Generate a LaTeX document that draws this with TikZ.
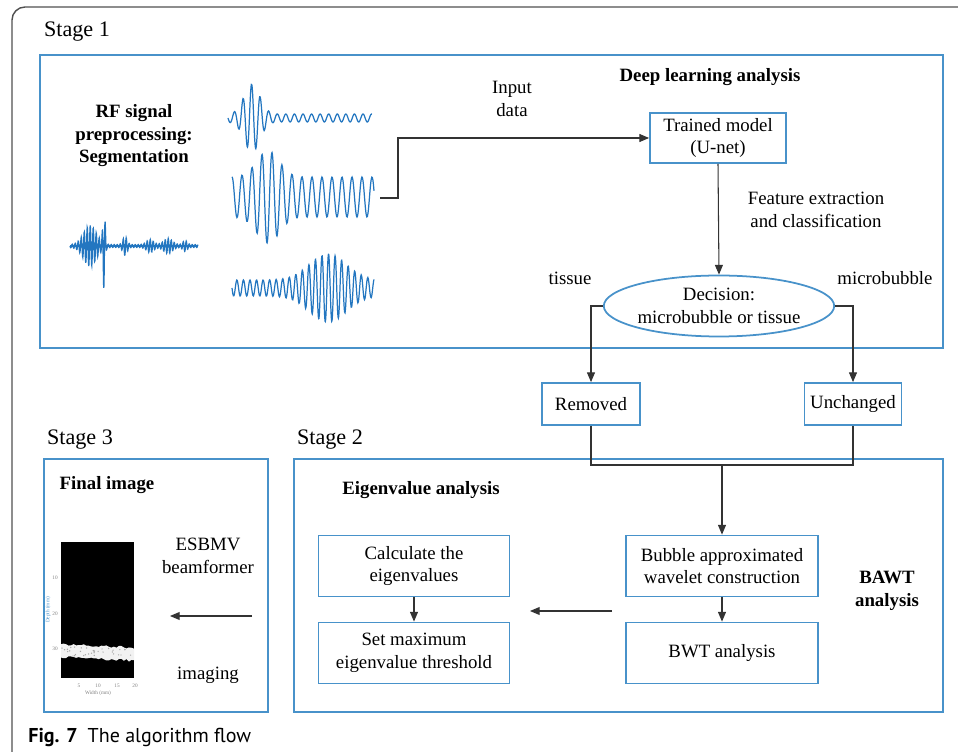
\documentclass[tikz,border=0pt]{standalone}
\usepackage{fontspec}
\setmainfont{Liberation Serif}
\newfontfamily\capfont{PT Sans}
\usetikzlibrary{shapes.geometric,arrows.meta}
\definecolor{boxblue}{RGB}{72,146,202}
\definecolor{waveblue}{RGB}{35,118,192}
\definecolor{frameline}{RGB}{80,80,80}
\tikzset{
  stagebox/.style={draw=boxblue,line width=1.2pt},
  stepbox/.style={draw=boxblue,line width=1pt,align=center,inner sep=0pt},
  title/.style={font=\fontsize{12.6}{15}\selectfont},
  heading/.style={font=\fontsize{10.7}{12.8}\selectfont\bfseries,align=center},
  plain/.style={align=center},
  link/.style={draw=black!80,line width=0.6pt},
  wave/.style={waveblue,line width=0.7pt},
  tick/.style={font=\fontsize{3}{3.5}\selectfont,text=black!50,inner sep=0pt}
}
\begin{document}
\begin{tikzpicture}[x=0.2mm,y=-0.2mm,>={Triangle[length=5.5pt,width=4.5pt]},
  font=\fontsize{10.7}{12.8}\selectfont]
\useasboundingbox (0,0) rectangle (958,752);
% outer frame
\draw[frameline,line width=0.8pt,rounded corners=2.6mm] (12,752) -- (12,7) -- (958,7);

% stage frames
\draw[stagebox] (40,55) rectangle (943,348);
\draw[stagebox] (294,459) rectangle (943,712);
\draw[stagebox] (44,459) rectangle (268,712);
\node[title] (stage1) at (77,32) {Stage 1};
\node[title] (stage2) at (330,440) {Stage 2};
\node[title] (stage3) at (80,440) {Stage 3};

% stage 1: signals
\node[heading] (rf) at (134,136) {RF signal\\preprocessing:\\Segmentation};
\draw[wave] (70,246) -- (198,246);
\draw[wave] plot[domain=70:198,samples=500]
  (\x,{246+(1.5+19*exp(-((\x-90)/9)^2)+40*exp(-((\x-104)/1.5)^2)+8*exp(-((\x-125)/3)^2)
   +5*exp(-((\x-150)/5)^2)+6*exp(-((\x-168)/6)^2)+4*exp(-((\x-185)/3)^2))*sin(120*(\x-70))});
\draw[wave] plot[domain=228:372,samples=260,smooth]
  (\x,{118+(4+30*exp(-((\x-252)/11)^2))*sin(42*(\x-228))});
\draw[wave] plot[domain=232:374,samples=260,smooth]
  (\x,{197+(20+26*exp(-((\x-268)/16)^2))*sin(36*(\x-232)-90)});
\draw[wave] plot[domain=232:374,samples=300,smooth]
  (\x,{288+(8+26*exp(-((\x-328)/26)^2))*sin(55*(\x-232))});
\coordinate (wend) at (380,198);

% stage 1: deep learning
\node[heading] (dla) at (710,77) {Deep learning analysis};
\node[plain] (input) at (512,99) {Input\\data};
\node[stepbox,minimum width=136*0.2mm,minimum height=50*0.2mm] (model) at (718,138) {Trained model\\(U-net)};
\node[plain] (feat) at (816,210) {Feature extraction\\and classification};
\node[draw=boxblue,line width=1pt,ellipse,inner sep=0pt,align=center,
  minimum width=207*0.2mm,minimum height=61*0.2mm] (dec) at (719,306) {Decision:\\microbubble or tissue};
\node[plain] (tis) at (570,278) {tissue};
\node[plain] (mb) at (885,278) {microbubble};
\node[stepbox,minimum width=98*0.2mm,minimum height=42*0.2mm] (rem) at (591,404) {Removed};
\node[stepbox,minimum width=97*0.2mm,minimum height=42*0.2mm] (unch) at (853,404) {Unchanged};

\draw[link,->] (wend) -- ++(18,0) |- (model.west);
\draw[link,->] (model.south) -- (dec.north);
\draw[link,->] (dec.west) -| (rem.north);
\draw[link,->] (dec.east) -| (unch.north);

% stage 2
\node[heading] (eig) at (421,490) {Eigenvalue analysis};
\node[heading] (bawt) at (887,591) {BAWT\\analysis};
\node[stepbox,minimum width=191*0.2mm,minimum height=61*0.2mm] (calc) at (414,566) {Calculate the\\eigenvalues};
\node[stepbox,minimum width=191*0.2mm,minimum height=61*0.2mm] (setmax) at (414,653) {Set maximum\\eigenvalue threshold};
\node[stepbox,minimum width=192*0.2mm,minimum height=61*0.2mm] (bub) at (722,566) {Bubble approximated\\wavelet construction};
\node[stepbox,minimum width=192*0.2mm,minimum height=61*0.2mm] (bwt) at (722,653) {BWT analysis};
\coordinate (join) at (722,465);
\coordinate (eigfrom) at (612,611);
\coordinate (eigto) at (530,611);

\draw[link] (rem.south) |- (join) -| (unch.south);
\draw[link,->] (join) -- (bub.north);
\draw[link,->] (bub.south) -- (bwt.north);
\draw[link,->] (calc.south) -- (setmax.north);
\draw[link,->] (eigfrom) -- (eigto);

% stage 3
\node[heading] (fin) at (107,485) {Final image};
\fill[black] (61,542) rectangle (134,678);
\pgfmathsetseed{7}
\fill[white!90!gray] plot[domain=61:134,samples=30] (\x,{644+0.05*(\x-61)+1.2*rand})
  -- plot[domain=134:61,samples=30] (\x,{657+0.05*(\x-61)+1.2*rand}) -- cycle;
\foreach \i in {1,...,35}
  \fill[black!35] ({62+71*rnd},{647+9*rnd}) circle (0.7);
\foreach \v/\y in {10/578,20/614,30/649}
  \node[tick,anchor=east] (yt\v) at (58,\y) {\v};
\foreach \v/\x in {5/79,10/98,15/117,20/135}
  \node[tick] (xt\v) at (\x,686) {\v};
\node[tick,rotate=90,text=boxblue] (depth) at (48,610) {Depth (mm)};
\node[tick] (width) at (98,693) {Width (mm)};
\node[plain] (esb) at (208,556) {ESBMV\\beamformer};
\node[plain] (img) at (208,675) {imaging};
\coordinate (imgfrom) at (252,616);
\coordinate (imgto) at (170,616);
\draw[link,->] (imgfrom) -- (imgto);

% caption
\node[anchor=west,inner sep=0pt,font=\capfont\fontsize{11.4}{14}\selectfont] (cap) at (28,737)
  {\textbf{Fig. 7}\hspace{0.5em}The algorithm flow};
\end{tikzpicture}
\end{document}
